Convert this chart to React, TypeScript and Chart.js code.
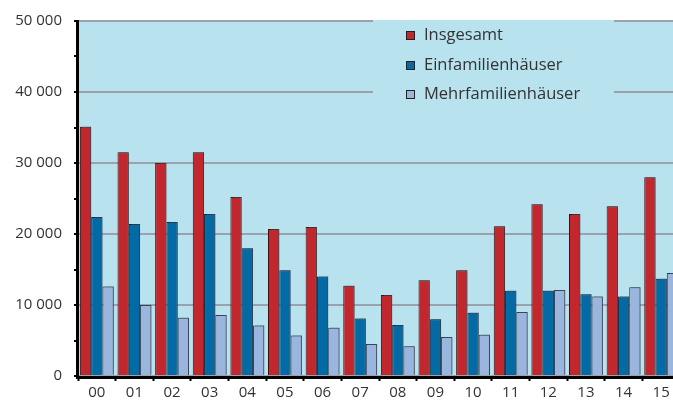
import React, { useEffect, useRef } from 'react';
import { Chart, registerables } from 'chart.js';
Chart.register(...registerables);

const years = ['00', '01', '02', '03', '04', '05', '06', '07', '08', '09', '10', '11', '12', '13', '14', '15'];
const insgesamt = [35100, 31500, 30000, 31500, 25200, 20700, 21000, 12700, 11400, 13500, 14900, 21100, 24200, 22800, 23900, 28000];
const einfamilien = [22400, 21400, 21700, 22800, 18000, 14900, 14000, 8100, 7200, 8000, 8900, 12000, 12000, 11500, 11200, 13700];
const mehrfamilien = [12600, 10000, 8200, 8600, 7100, 5700, 6800, 4500, 4200, 5500, 5800, 9000, 12100, 11200, 12500, 14500];
const seriesNames = ['Insgesamt', 'Einfamilienhäuser', 'Mehrfamilienhäuser'];
const seriesColors = ['#c1272d', '#036aa6', '#9bb6de'];
const seriesBorders = ['#3a1010', '#0b2438', '#2f3a4a'];
const yTicks = [0, 10000, 20000, 30000, 40000, 50000];

const FONT = "'Open Sans', 'Noto Sans', sans-serif";
const PLOT_BG = '#b8e2ed';

const fmt = (v: number) => String(v).replace(/\B(?=(\d{3})+(?!\d))/g, ' ');

export default function App() {
  const ref = useRef<HTMLCanvasElement>(null);
  useEffect(() => {
    const decor = {
      id: 'decor',
      beforeDraw(chart: any) {
        const { ctx, chartArea: a } = chart;
        ctx.save();
        ctx.fillStyle = PLOT_BG;
        ctx.fillRect(a.left, a.top, a.right - a.left, a.bottom - a.top);
        ctx.restore();
      },
      beforeDatasetsDraw(chart: any) {
        const { ctx } = chart;
        ctx.save();
        ctx.fillStyle = PLOT_BG;
        ctx.fillRect(373, 20, 241, 88);
        const ys = [35.5, 65.5, 94.5];
        ctx.font = `16.5px ${FONT}`;
        ctx.textBaseline = 'middle';
        ctx.textAlign = 'left';
        seriesNames.forEach((n, i) => {
          ctx.fillStyle = seriesColors[i];
          ctx.fillRect(406, ys[i] - 4.5, 9, 9);
          ctx.strokeStyle = '#222';
          ctx.lineWidth = 1;
          ctx.strokeRect(406.5, ys[i] - 4, 8, 8);
          ctx.fillStyle = '#333';
          ctx.fillText(n, 424, ys[i]);
        });
        ctx.restore();
        ctx.save();
        ctx.shadowColor = 'rgba(70,80,95,0.55)';
        ctx.shadowOffsetX = 2;
        ctx.shadowOffsetY = -1;
        ctx.shadowBlur = 0;
      },
      afterDatasetsDraw(chart: any) {
        const { ctx, chartArea: a } = chart;
        ctx.restore();
        ctx.save();
        ctx.strokeStyle = '#000';
        ctx.lineWidth = 3;
        ctx.beginPath();
        ctx.moveTo(a.left - 0.5, a.top - 1);
        ctx.lineTo(a.left - 0.5, a.bottom + 1.5);
        ctx.lineTo(a.right + 2, a.bottom + 1.5);
        ctx.stroke();
        ctx.restore();
      },
    };
    const chart = new Chart(ref.current!, {
      type: 'bar',
      data: {
        labels: years,
        datasets: [insgesamt, einfamilien, mehrfamilien].map((d, i) => ({
          label: seriesNames[i],
          data: d,
          backgroundColor: seriesColors[i],
          borderColor: seriesBorders[i],
          borderWidth: 1,
          categoryPercentage: 0.9,
          barPercentage: 1.0,
        })),
      },
      options: {
        animation: false,
        responsive: false,
        devicePixelRatio: 1,
        layout: { padding: { top: 19, right: 10, left: 0, bottom: 0 } },
        plugins: { legend: { display: false }, tooltip: { enabled: false } },
        scales: {
          x: {
            grid: {
              offset: true,
              drawOnChartArea: false,
              drawTicks: true,
              tickLength: 5,
              tickColor: '#000',
              tickWidth: 2,
            },
            border: { display: false },
            ticks: {
              color: '#333',
              font: { family: FONT, size: 15 },
              padding: 3,
              maxRotation: 0,
              autoSkip: false,
            },
            afterFit: (s: any) => {
              s.height = 27;
            },
          },
          y: {
            min: 0,
            max: 50000,
            ticks: {
              stepSize: 5000,
              color: '#333',
              font: { family: FONT, size: 15 },
              padding: 12,
              callback: (v: any) => (yTicks.includes(Number(v)) ? fmt(Number(v)) : ''),
            },
            grid: {
              color: (c: any) => (c.tick && c.tick.value % 10000 === 0 ? '#9ba2ae' : 'rgba(0,0,0,0)'),
              lineWidth: 2,
              tickColor: '#000',
              tickWidth: 2,
              tickLength: 4,
            },
            border: { display: false },
            afterFit: (s: any) => {
              s.width = 78;
            },
          },
        },
      },
      plugins: [decor],
    });
    return () => chart.destroy();
  }, []);
  return (
    <div style={{ position: 'fixed', left: 0, top: 0, width: 673, height: 403, overflow: 'hidden', background: '#fff' }}>
      <canvas ref={ref} width={690} height={403} style={{ display: 'block', width: 690, height: 403 }} />
    </div>
  );
}
